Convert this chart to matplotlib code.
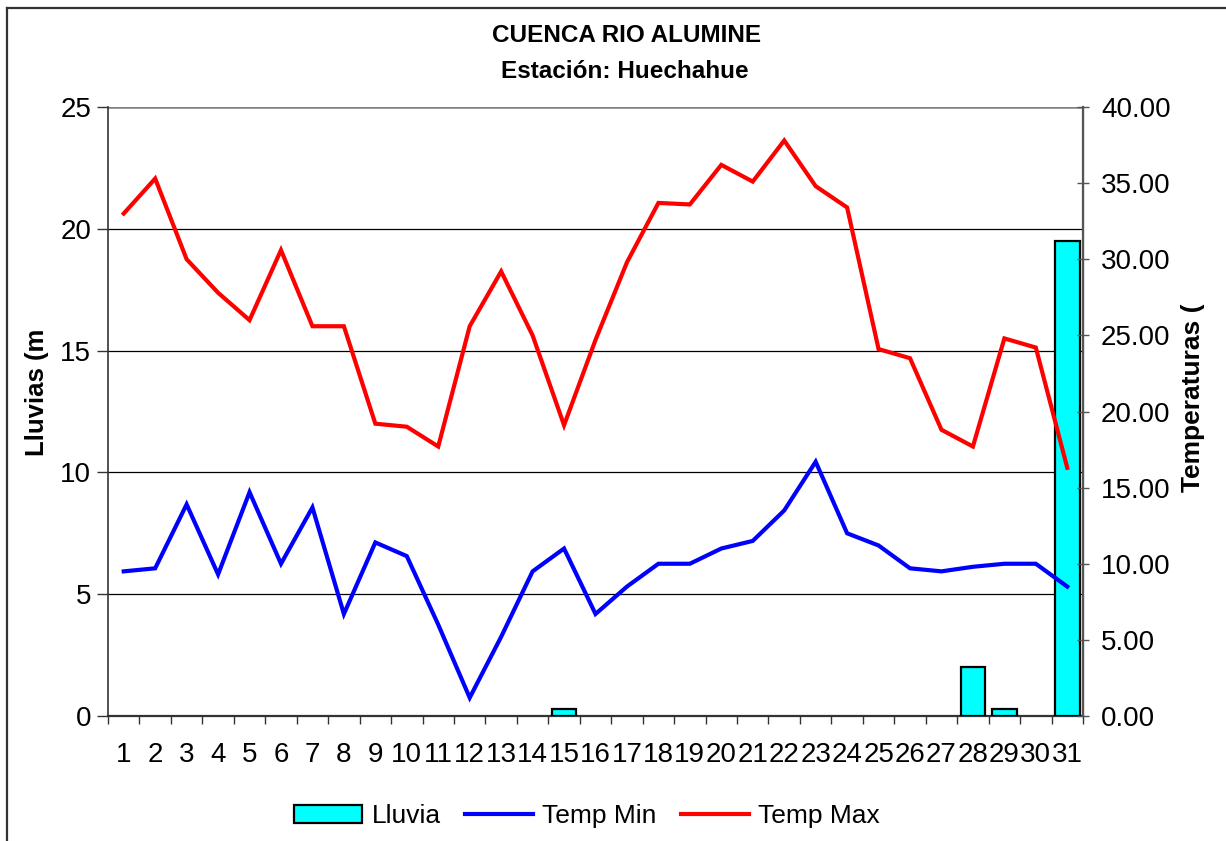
import matplotlib
matplotlib.use("Agg")
import matplotlib.pyplot as plt
from matplotlib.lines import Line2D
from matplotlib.patches import Patch
from matplotlib.ticker import FormatStrFormatter, MultipleLocator

plt.rcParams['font.family'] = ['Liberation Sans', 'DejaVu Sans']

days = list(range(1, 32))
day_labels = [str(d) for d in days]
lluvia = [0, 0, 0, 0, 0, 0, 0, 0, 0, 0, 0, 0, 0, 0, 0.3, 0, 0, 0, 0, 0, 0, 0, 0, 0, 0, 0, 0, 2.0, 0.3, 0, 19.5]
temp_min = [9.5, 9.7, 13.9, 9.3, 14.7, 10.0, 13.7, 6.7, 11.4, 10.5, 6.0, 1.2, 5.2, 9.5, 11.0, 6.7,
            8.5, 10.0, 10.0, 11.0, 11.5, 13.5, 16.7, 12.0, 11.2, 9.7, 9.5, 9.8, 10.0, 10.0, 8.5]
temp_max = [33.0, 35.3, 30.0, 27.8, 26.0, 30.6, 25.6, 25.6, 19.2, 19.0, 17.7, 25.6, 29.2, 25.0, 19.1, 24.7,
            29.8, 33.7, 33.6, 36.2, 35.1, 37.8, 34.8, 33.4, 24.1, 23.5, 18.8, 17.7, 24.8, 24.2, 16.3]

W, H = 1226, 841
fig = plt.figure(figsize=(W / 100, H / 100), dpi=100)
fig.patch.set_facecolor('white')

# outer chart border
fig.add_artist(Line2D([7 / W, 1.01], [1 - 8 / H, 1 - 8 / H], transform=fig.transFigure, color='#333333', lw=1.6))
fig.add_artist(Line2D([7 / W, 7 / W], [1 - 8 / H, -0.01], transform=fig.transFigure, color='#333333', lw=1.6))

left, right, bottom, top = 108 / W, 1083 / W, 1 - 716 / H, 1 - 107 / H
ax = fig.add_axes([left, bottom, right - left, top - bottom])
ax2 = ax.twinx()

rain_days = [d for d, v in zip(days, lluvia) if v > 0]
rain_vals = [v for v in lluvia if v > 0]
ax.bar(rain_days, rain_vals, width=0.78, color='#00FFFF', edgecolor='black', linewidth=1.6, zorder=3)
ax.set_xlim(0.5, 31.5)
ax.set_ylim(0, 25)
ax.yaxis.set_major_locator(MultipleLocator(5))
for y in [5, 10, 15, 20]:
    ax.axhline(y, color='black', lw=0.9, zorder=1)
ax.axhline(25, color='#808080', lw=1.8, zorder=1)

ax2.plot(days, temp_min, color='#0000FF', lw=3.0, solid_joinstyle='miter')
ax2.plot(days, temp_max, color='#FF0000', lw=3.0, solid_joinstyle='miter')
ax2.set_ylim(0, 40)
ax2.yaxis.set_major_locator(MultipleLocator(5))
ax2.yaxis.set_major_formatter(FormatStrFormatter('%.2f'))

# spines
for a in (ax, ax2):
    a.spines['top'].set_visible(False)
ax.spines['left'].set_color('#333333')
ax.spines['left'].set_linewidth(1.2)
ax.spines['bottom'].set_color('#333333')
ax.spines['bottom'].set_linewidth(1.6)
ax2.spines['right'].set_color('#555555')
ax2.spines['right'].set_linewidth(1.6)
ax2.spines['left'].set_visible(False)
ax2.spines['bottom'].set_visible(False)

# x ticks: labels at centers, tick marks at boundaries
ax.set_xticks(days)
ax.set_xticklabels(day_labels)
ax.tick_params(axis='x', which='major', length=0, pad=19, labelsize=20)
ax.set_xticks([d + 0.5 for d in range(0, 32)], minor=True)
ax.tick_params(axis='x', which='minor', length=6, width=1, color='#333333', direction='out')

ax.tick_params(axis='y', which='major', length=8, width=1, color='#333333', direction='out', labelsize=20, pad=4)
ax2.tick_params(axis='y', which='major', length=8, width=1, color='#555555', direction='inout', labelsize=20, pad=9)

fig.text(37 / W, 1 - 392 / H, 'Lluvias (m', rotation=90, ha='center', va='center', fontsize=18.5, fontweight='bold')
fig.text(1193 / W, 1 - 398 / H, 'Temperaturas (', rotation=90, ha='center', va='center', fontsize=19, fontweight='bold')

fig.text(627 / W, 1 - 35 / H, 'CUENCA RIO ALUMINE', ha='center', va='center', fontsize=17.5, fontweight='bold')
fig.text(625 / W, 1 - 71 / H, 'Estación: Huechahue', ha='center', va='center', fontsize=17.5, fontweight='bold')

handles = [Patch(facecolor='#00FFFF', edgecolor='black', linewidth=1.6),
           Line2D([], [], color='#0000FF', lw=3.0),
           Line2D([], [], color='#FF0000', lw=3.0)]
fig.legend(handles, ['Lluvia', 'Temp Min', 'Temp Max'], loc='center', bbox_to_anchor=(587 / W, 1 - 816 / H),
           ncol=3, frameon=False, fontsize=19, handlelength=2.6, handleheight=0.7, handletextpad=0.35,
           columnspacing=0.9, borderpad=0.2)

fig.savefig('out.png', dpi=100)
